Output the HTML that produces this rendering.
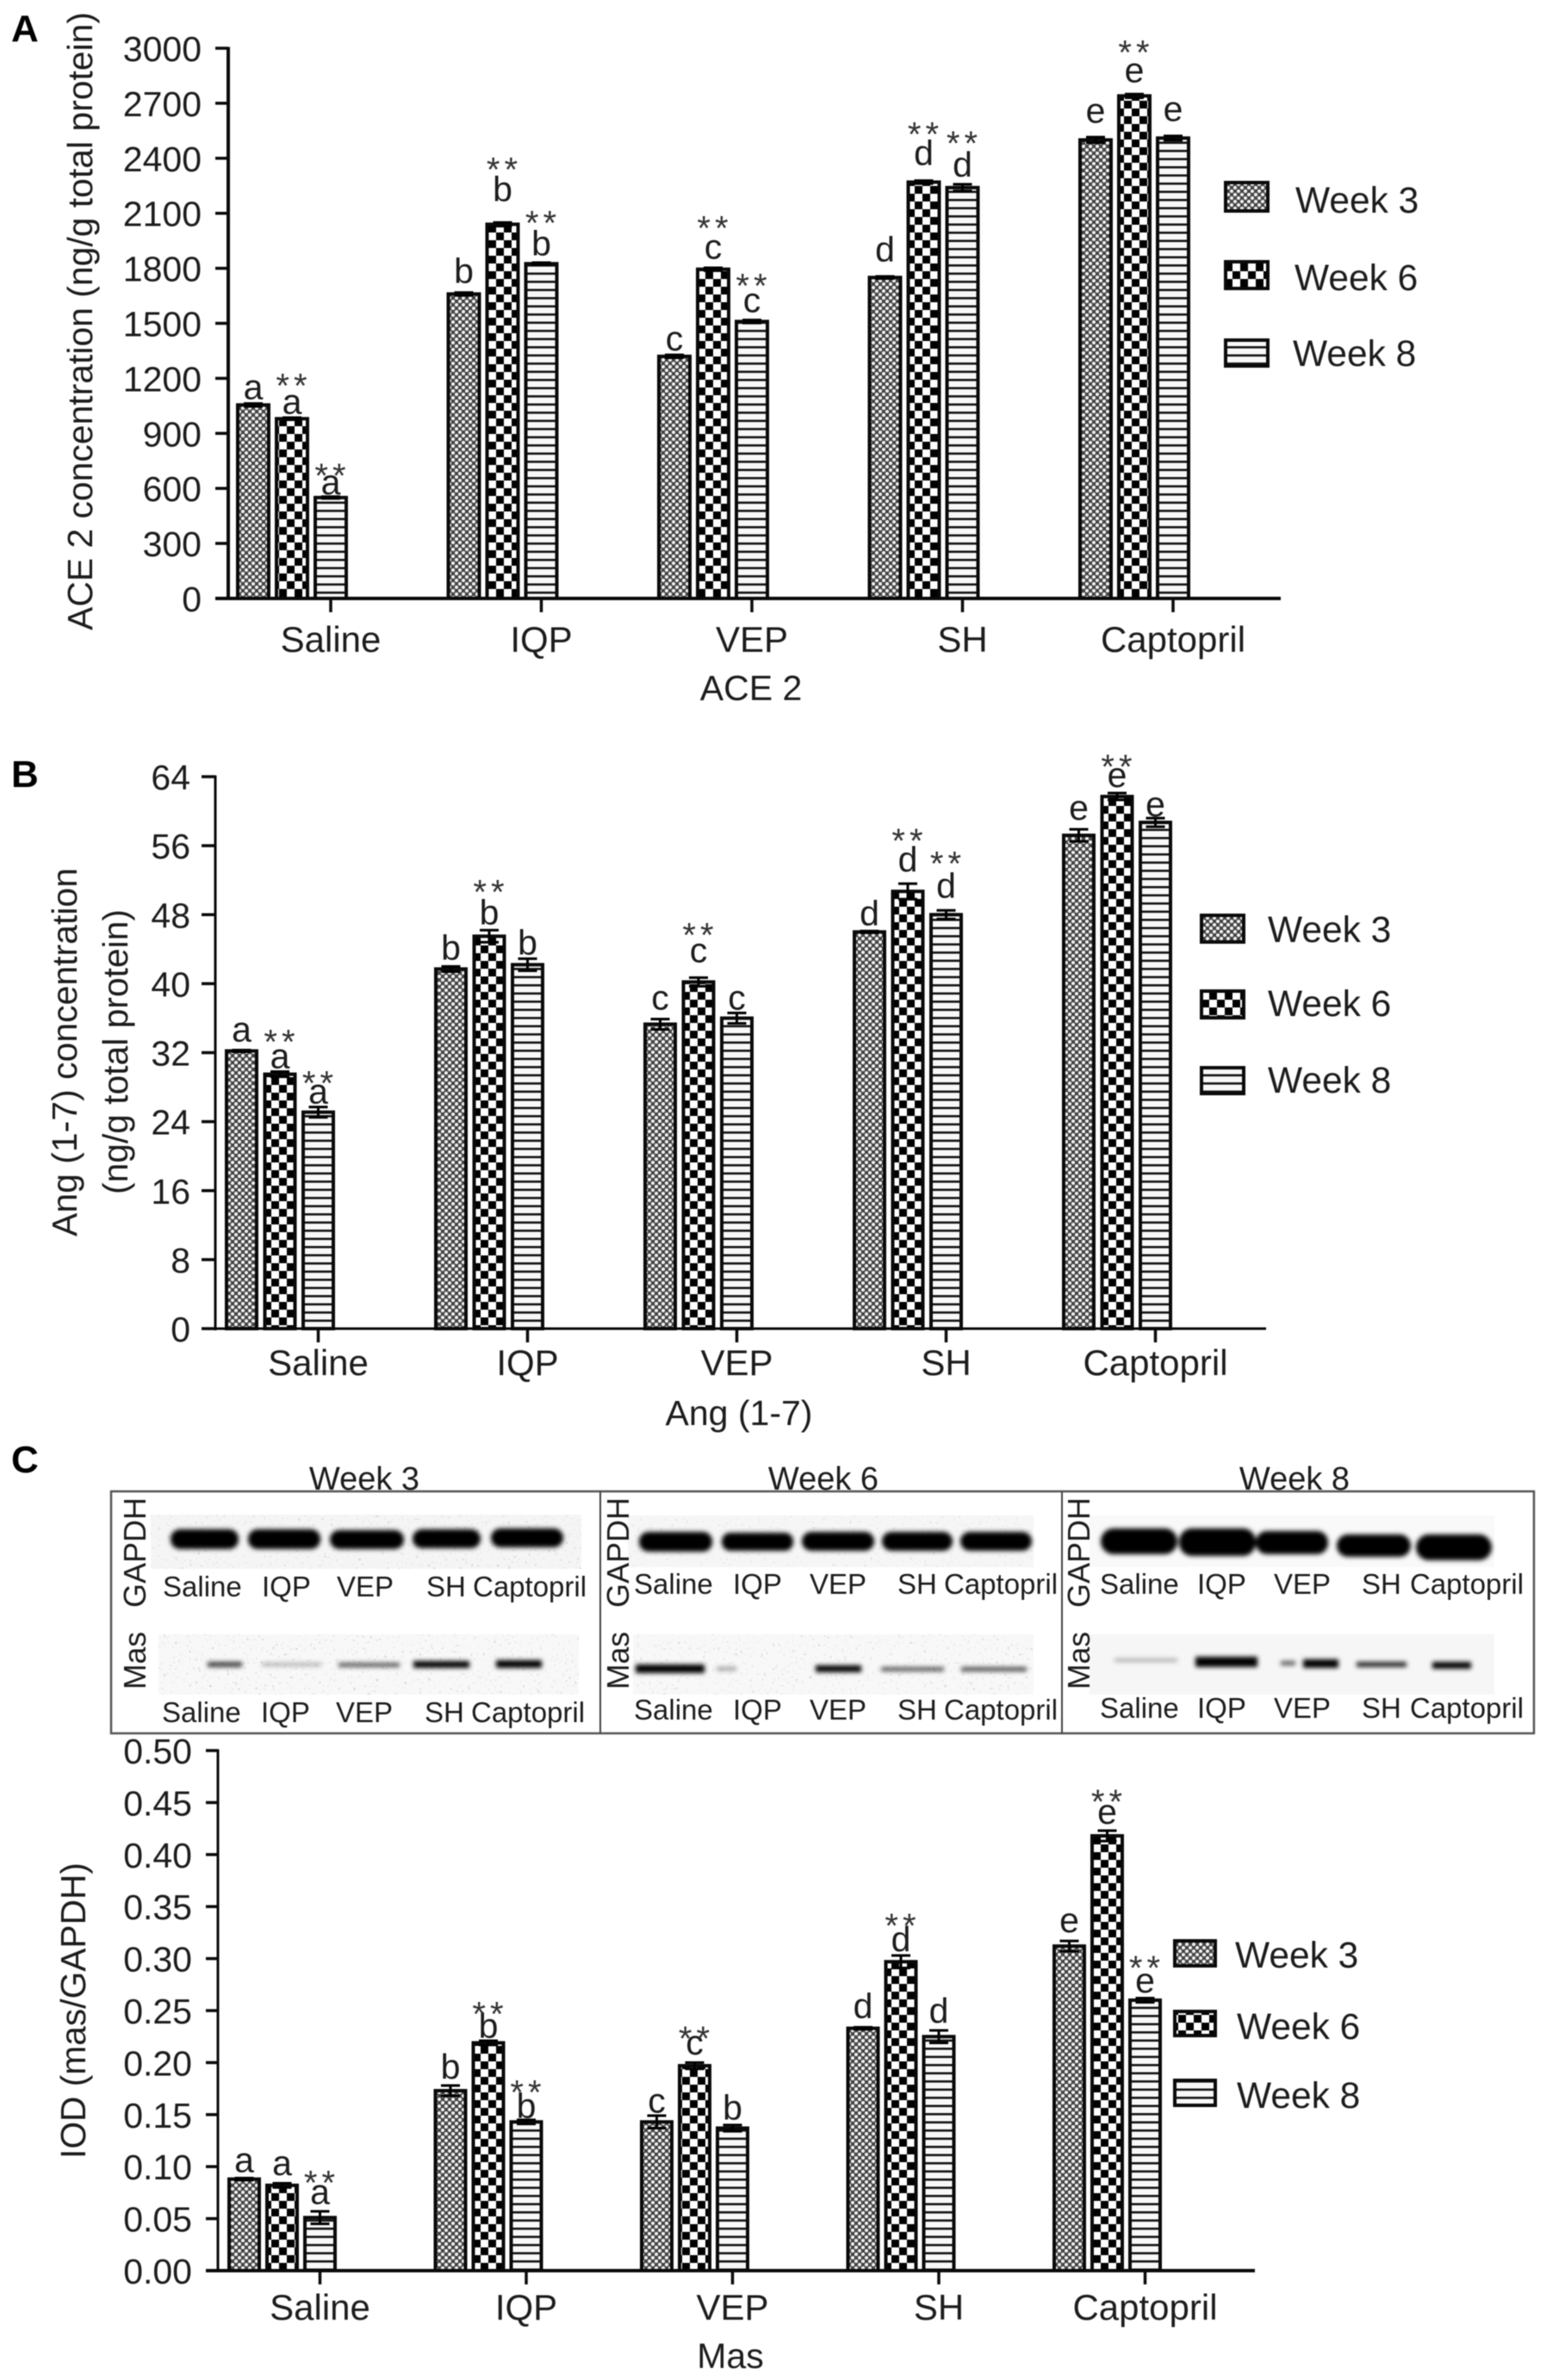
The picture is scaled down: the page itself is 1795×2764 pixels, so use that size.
<!DOCTYPE html>
<html lang="en">
<head>
<meta charset="utf-8">
<title>ACE 2, Ang (1-7) and Mas bar charts</title>
<style>
  html, body { margin: 0; padding: 0; background: #fff; }
  #figure { display: block; width: 1795px; height: 2764px; filter: blur(0.6px); }
  text { font-family: "Liberation Sans", Arial, sans-serif; fill: #1c1c1c; }
</style>
</head>
<body>
<svg id="figure" xmlns="http://www.w3.org/2000/svg" width="1795" height="2764" viewBox="0 0 1795 2764">
  <defs>
    <pattern id="pat-week3" patternUnits="userSpaceOnUse" width="8" height="8">
      <rect width="8" height="8" fill="#444"/>
      <circle cx="2" cy="2" r="2.05" fill="#f0f0f0"/>
      <circle cx="6" cy="6" r="2.05" fill="#f0f0f0"/>
    </pattern>
    <pattern id="pat-week6" patternUnits="userSpaceOnUse" width="18" height="18">
      <rect width="18" height="18" fill="#fff"/>
      <rect width="9" height="9" fill="#000"/>
      <rect x="9" y="9" width="9" height="9" fill="#000"/>
    </pattern>
    <pattern id="pat-week8" patternUnits="userSpaceOnUse" width="10" height="9.5">
      <rect width="10" height="9.5" fill="#f8f8f8"/>
      <rect y="3" width="10" height="2.6" fill="#151515"/>
    </pattern>
    <filter id="band-blur" x="-30%" y="-150%" width="160%" height="400%">
      <feGaussianBlur stdDeviation="2.6"/>
    </filter>
    <filter id="speckle" x="0" y="0" width="100%" height="100%">
      <feTurbulence type="fractalNoise" baseFrequency="0.3" numOctaves="2" seed="7"/>
      <feColorMatrix type="matrix" values="0 0 0 0 0.35  0 0 0 0 0.35  0 0 0 0 0.35  5 0 0 0 -3.2"/>
    </filter>
  </defs>

  <g id="blot">
    <rect x="129" y="1732" width="1652" height="281" fill="none" stroke="#555" stroke-width="2.5"/>
    <line x1="697" y1="1732" x2="697" y2="2013" stroke="#444" stroke-width="2"/>
    <line x1="1233" y1="1732" x2="1233" y2="2013" stroke="#444" stroke-width="2"/>

    <g>
      <rect x="175" y="1759" width="500" height="63" fill="#f5f5f5"/>
      <rect x="175" y="1759" width="500" height="63" filter="url(#speckle)" opacity="0.4"/>
      <g filter="url(#band-blur)" fill="#050505">
        <rect x="198" y="1776" width="79" height="23" rx="11"/>
        <rect x="288" y="1776" width="84" height="23" rx="11"/>
        <rect x="383" y="1777" width="86" height="22" rx="11"/>
        <rect x="479" y="1776" width="79" height="22" rx="11"/>
        <rect x="570" y="1775" width="84" height="22" rx="11"/>
      </g>
    </g>
    <g>
      <rect x="184" y="1898" width="488" height="70" fill="#f8f8f8"/>
      <rect x="184" y="1898" width="488" height="70" filter="url(#speckle)" opacity="0.45"/>
      <g filter="url(#band-blur)" fill="#050505">
        <rect x="241" y="1930" width="40" height="6" opacity="0.75"/>
        <rect x="304" y="1931" width="69" height="4" opacity="0.3"/>
        <rect x="393" y="1931" width="71" height="5" opacity="0.65"/>
        <rect x="480" y="1929" width="65" height="8" opacity="1"/>
        <rect x="576" y="1928" width="53" height="9" opacity="1"/>
      </g>
    </g>

    <g>
      <rect x="729" y="1760" width="471" height="60" fill="#f6f6f6"/>
      <rect x="729" y="1760" width="471" height="60" filter="url(#speckle)" opacity="0.3"/>
      <g filter="url(#band-blur)" fill="#050505">
        <rect x="742" y="1779" width="85" height="23" rx="11"/>
        <rect x="838" y="1780" width="83" height="21" rx="10"/>
        <rect x="931" y="1779" width="84" height="22" rx="11"/>
        <rect x="1024" y="1779" width="82" height="22" rx="11"/>
        <rect x="1115" y="1779" width="83" height="22" rx="11"/>
      </g>
    </g>
    <g>
      <rect x="735" y="1898" width="465" height="70" fill="#f8f8f8"/>
      <rect x="735" y="1898" width="465" height="70" filter="url(#speckle)" opacity="0.4"/>
      <g filter="url(#band-blur)" fill="#050505">
        <rect x="738" y="1933" width="80" height="10" opacity="1"/>
        <rect x="832" y="1936" width="23" height="4" opacity="0.4"/>
        <rect x="947" y="1934" width="53" height="8" opacity="1"/>
        <rect x="1023" y="1936" width="73" height="5" opacity="0.65"/>
        <rect x="1116" y="1936" width="76" height="5" opacity="0.7"/>
      </g>
    </g>

    <g>
      <rect x="1265" y="1760" width="470" height="60" fill="#f9f9f9"/>
      <g filter="url(#band-blur)" fill="#020202">
        <rect x="1278" y="1775" width="89" height="30" rx="15"/>
        <rect x="1369" y="1775" width="89" height="32" rx="15"/>
        <rect x="1458" y="1778" width="84" height="27" rx="13"/>
        <rect x="1552" y="1782" width="86" height="26" rx="13"/>
        <rect x="1644" y="1782" width="88" height="30" rx="15"/>
      </g>
    </g>
    <g>
      <rect x="1265" y="1898" width="470" height="70" fill="#f6f6f6"/>
      <g filter="url(#band-blur)" fill="#050505">
        <rect x="1294" y="1926" width="73" height="4" opacity="0.3"/>
        <rect x="1388" y="1924" width="72" height="12" opacity="1"/>
        <rect x="1487" y="1929" width="17" height="5" opacity="0.65"/>
        <rect x="1513" y="1927" width="41" height="10" opacity="1"/>
        <rect x="1575" y="1930" width="58" height="6" opacity="0.85"/>
        <rect x="1663" y="1930" width="45" height="8" opacity="1"/>
      </g>
    </g>

    <text x="423" y="1730" font-size="38" text-anchor="middle">Week 3</text>
    <text x="956" y="1730" font-size="38" text-anchor="middle">Week 6</text>
    <text x="1503" y="1730" font-size="38" text-anchor="middle">Week 8</text>

    <text transform="translate(169,1867) rotate(-90)" font-size="36" textLength="128" lengthAdjust="spacingAndGlyphs">GAPDH</text>
    <text transform="translate(169,1962) rotate(-90)" font-size="36" textLength="67" lengthAdjust="spacingAndGlyphs">Mas</text>
    <text transform="translate(730,1867) rotate(-90)" font-size="36" textLength="128" lengthAdjust="spacingAndGlyphs">GAPDH</text>
    <text transform="translate(730,1962) rotate(-90)" font-size="36" textLength="67" lengthAdjust="spacingAndGlyphs">Mas</text>
    <text transform="translate(1265,1867) rotate(-90)" font-size="36" textLength="128" lengthAdjust="spacingAndGlyphs">GAPDH</text>
    <text transform="translate(1265,1962) rotate(-90)" font-size="36" textLength="67" lengthAdjust="spacingAndGlyphs">Mas</text>
    <g id="blot-lane-labels"></g>
  </g>

  <g id="panel-a">
    <text x="13" y="48" font-size="44" font-weight="bold" style="fill:#000">A</text>
    <text transform="translate(107,732) rotate(-90)" font-size="41" textLength="718" lengthAdjust="spacingAndGlyphs">ACE 2 concentration (ng/g total protein)</text>
    <text x="872" y="813" font-size="41" text-anchor="middle">ACE 2</text>
  </g>
  <g id="panel-b">
    <text x="13" y="914" font-size="44" font-weight="bold" style="fill:#000">B</text>
    <text transform="translate(89,1436) rotate(-90)" font-size="41" textLength="428" lengthAdjust="spacingAndGlyphs">Ang (1-7) concentration</text>
    <text transform="translate(148,1387) rotate(-90)" font-size="41" textLength="331" lengthAdjust="spacingAndGlyphs">(ng/g total protein)</text>
    <text x="858" y="1655" font-size="41" text-anchor="middle">Ang (1-7)</text>
  </g>
  <g id="panel-c">
    <text x="13" y="1710" font-size="44" font-weight="bold" style="fill:#000">C</text>
    <text transform="translate(99,2507) rotate(-90)" font-size="41" textLength="344" lengthAdjust="spacingAndGlyphs">IOD (mas/GAPDH)</text>
    <text x="848" y="2750" font-size="41" text-anchor="middle">Mas</text>
  </g>
</svg>

<script>
// ---------- shared categories ----------
const categories = ['Saline', 'IQP', 'VEP', 'SH', 'Captopril'];
const seriesNames = ['Week 3', 'Week 6', 'Week 8'];

// ---------- panel A data (ng/g total protein) ----------
const aTicks = [0, 300, 600, 900, 1200, 1500, 1800, 2100, 2400, 2700, 3000];
const aWeek3 = [1055, 1660, 1320, 1750, 2500];
const aWeek6 = [980, 2040, 1795, 2270, 2740];
const aWeek8 = [550, 1825, 1510, 2240, 2510];
const aErrWeek3 = [8, 8, 8, 6, 15];
const aErrWeek6 = [6, 10, 8, 8, 10];
const aErrWeek8 = [5, 6, 8, 18, 12];
const aLettersWeek3 = ['a', 'b', 'c', 'd', 'e'];
const aLettersWeek6 = ['a', 'b', 'c', 'd', 'e'];
const aLettersWeek8 = ['a', 'b', 'c', 'd', 'e'];
const aStarsWeek3 = [0, 0, 0, 0, 0];
const aStarsWeek6 = [1, 1, 1, 1, 1];
const aStarsWeek8 = [1, 1, 1, 1, 0];

// ---------- panel B data (ng/g total protein) ----------
const bTicks = [0, 8, 16, 24, 32, 40, 48, 56, 64];
const bWeek3 = [32.2, 41.7, 35.3, 46, 57.2];
const bWeek6 = [29.5, 45.5, 40.2, 50.7, 61.7];
const bWeek8 = [25.1, 42.2, 36, 48, 58.7];
const bErrWeek3 = [0.1, 0.3, 0.6, 0.1, 0.7];
const bErrWeek6 = [0.3, 0.7, 0.5, 0.9, 0.4];
const bErrWeek8 = [0.6, 0.7, 0.6, 0.5, 0.5];
const bLettersWeek3 = ['a', 'b', 'c', 'd', 'e'];
const bLettersWeek6 = ['a', 'b', 'c', 'd', 'e'];
const bLettersWeek8 = ['a', 'b', 'c', 'd', 'e'];
const bStarsWeek3 = [0, 0, 0, 0, 0];
const bStarsWeek6 = [1, 1, 1, 1, 1];
const bStarsWeek8 = [1, 0, 0, 1, 0];

// ---------- panel C data (IOD mas/GAPDH) ----------
const cTicks = ['0.00', '0.05', '0.10', '0.15', '0.20', '0.25', '0.30', '0.35', '0.40', '0.45', '0.50'];
const cWeek3 = [0.088, 0.173, 0.143, 0.233, 0.312];
const cWeek6 = [0.082, 0.219, 0.197, 0.297, 0.418];
const cWeek8 = [0.051, 0.143, 0.137, 0.225, 0.260];
const cErrWeek3 = [0.001, 0.005, 0.006, 0.001, 0.005];
const cErrWeek6 = [0.002, 0.002, 0.003, 0.006, 0.005];
const cErrWeek8 = [0.006, 0.002, 0.003, 0.006, 0.002];
const cLettersWeek3 = ['a', 'b', 'c', 'd', 'e'];
const cLettersWeek6 = ['a', 'b', 'c', 'd', 'e'];
const cLettersWeek8 = ['a', 'b', 'b', 'd', 'e'];
const cStarsWeek3 = [0, 0, 0, 0, 0];
const cStarsWeek6 = [0, 1, 1, 1, 1];
const cStarsWeek8 = [1, 1, 0, 0, 1];

// ---------- annotation clearance above each bar (layout only, not data) ----------
const aLetterLift = [[7, 13, 7, 19, 20], [6, 27, 12, 20, 16], [4, 10, 11, 13, 20]];
const aStarLift = [[0, 0, 0, 0, 0], [44, 69, 53, 61, 56], [31, 53, 47, 57, 0]];
const bLetterLift = [[11, 11, 17, 8, 18], [7, 14, 23, 23, 11], [10, 12, 10, 20, 7]];
const bStarLift = [[0, 0, 0, 0, 0], [43, 57, 60, 64, 40], [39, 0, 0, 65, 0]];
const cLetterLift = [[8, 14, 11, 12, 16], [12, 6, 13, 12, 14], [16, 5, 10, 16, 9]];
const cStarLift = [[0, 0, 0, 0, 0], [0, 39, 37, 47, 45], [46, 40, 0, 0, 43]];

const NS = 'http://www.w3.org/2000/svg';
function mk(tag, attrs, parent) {
  const node = document.createElementNS(NS, tag);
  for (const k in attrs) node.setAttribute(k, attrs[k]);
  parent.appendChild(node);
  return node;
}
const patternIds = ['pat-week3', 'pat-week6', 'pat-week8'];

function drawPanel(cfg) {
  const root = document.getElementById(cfg.id);
  const yScale = v => cfg.y0 + (cfg.yTop - cfg.y0) * (v - cfg.min) / (cfg.max - cfg.min);
  const barLeft = (group, series) => cfg.left + group * cfg.groupStep + series * cfg.barStep;
  const barCenter = (group, series) => barLeft(group, series) + cfg.barW / 2;

  // bars, error bars and annotations
  cfg.series.forEach((values, s) => {
    values.forEach((v, g) => {
      const bar = mk('rect', {
        x: barLeft(g, s) + 2,
        y: yScale(v),
        width: cfg.barW - 4,
        height: Math.max(0, cfg.y0 - yScale(v)),
        fill: 'url(#' + patternIds[s] + ')',
        stroke: '#0a0a0a',
        'stroke-width': 4
      }, root);
      
      

      const err = cfg.errors[s][g];
      const cx = barCenter(g, s);
      const errGroup = mk('g', { stroke: '#000', 'stroke-width': 3 }, root);
      
      
      mk('line', { x1: cx, x2: cx, y1: yScale(v + err), y2: yScale(v - err) }, errGroup);
      mk('line', { x1: cx - 11, x2: cx + 11, y1: yScale(v + err), y2: yScale(v + err) }, errGroup);
      mk('line', { x1: cx - 11, x2: cx + 11, y1: yScale(v - err), y2: yScale(v - err) }, errGroup);

      const letter = mk('text', {
        x: cx,
        y: yScale(v) - cfg.letterLift[s][g],
        'font-size': 41,
        'text-anchor': 'middle'
      }, root);
      letter.textContent = cfg.letters[s][g];
      
      

      if (cfg.stars[s][g]) {
        const star = mk('text', {
          x: cx + 2,
          y: yScale(v) - cfg.starLift[s][g] + 19,
          'font-size': 40,
          'text-anchor': 'middle',
          'letter-spacing': 5,
          style: 'fill:#333'
        }, root);
        star.textContent = '**';
        
        
      }
    });
  });

  // axes
  const yAxis = mk('line', { x1: cfg.axisX, x2: cfg.axisX, y1: cfg.yTop - 1.5, y2: cfg.y0 + 2, stroke: '#0a0a0a', 'stroke-width': cfg.yAxisW }, root);
  
  
  const xAxis = mk('line', { x1: cfg.axisX - cfg.tickLen, x2: cfg.xEnd, y1: cfg.y0, y2: cfg.y0, stroke: '#0a0a0a', 'stroke-width': cfg.xAxisW }, root);
  
  

  cfg.ticks.forEach(t => {
    const value = Number(t);
    const tick = mk('line', { x1: cfg.axisX - cfg.tickLen, x2: cfg.axisX, y1: yScale(value), y2: yScale(value), stroke: '#0a0a0a', 'stroke-width': 3.5 }, root);
    
    
    const label = mk('text', { x: cfg.tickLabelX, y: yScale(value) + 15, 'font-size': 41, 'text-anchor': 'end' }, root);
    label.textContent = String(t);
    
    
  });

  categories.forEach((name, g) => {
    const cx = barCenter(g, 2);
    const tick = mk('line', { x1: cx, x2: cx, y1: cfg.y0, y2: cfg.y0 + 16, stroke: '#0a0a0a', 'stroke-width': 3.5 }, root);
    
    
    const label = mk('text', { x: cx, y: cfg.catLabelY, 'font-size': 42, 'text-anchor': 'middle' }, root);
    label.textContent = name;
    
    
  });

  // legend
  seriesNames.forEach((name, s) => {
    const row = mk('g', {}, root);
    
    
    const box = cfg.legend[s];
    const swatch = mk('rect', {
      x: cfg.legendX + 2, y: box.top + 2,
      width: cfg.legendW - 4, height: box.h - 4,
      fill: 'url(#' + patternIds[s] + ')', stroke: '#0a0a0a', 'stroke-width': 4
    }, row);
    
    
    const label = mk('text', { x: box.textX, y: box.base, 'font-size': 42.5 }, row);
    label.textContent = name;
    
    
  });
}

drawPanel({
  id: 'panel-a', min: 0, max: 3000, yTop: 56, y0: 695,
  axisX: 265, xEnd: 1487, tickLen: 15, tickLabelX: 234, yAxisW: 4, xAxisW: 4, catLabelY: 757,
  left: 274, groupStep: 244.5, barStep: 45, barW: 40,
  series: [aWeek3, aWeek6, aWeek8],
  errors: [aErrWeek3, aErrWeek6, aErrWeek8],
  letters: [aLettersWeek3, aLettersWeek6, aLettersWeek8],
  stars: [aStarsWeek3, aStarsWeek6, aStarsWeek8],
  letterLift: aLetterLift, starLift: aStarLift,
  ticks: aTicks,
  legendX: 1421, legendW: 53,
  legend: [
    { top: 210, h: 37, textX: 1504, base: 247 },
    { top: 302, h: 35, textX: 1503, base: 337 },
    { top: 393, h: 34, textX: 1501, base: 425 }
  ]
});

drawPanel({
  id: 'panel-b', min: 0, max: 64, yTop: 902, y0: 1543,
  axisX: 250, xEnd: 1470, tickLen: 16, tickLabelX: 221, yAxisW: 3, xAxisW: 3, catLabelY: 1597,
  left: 261, groupStep: 243, barStep: 44.5, barW: 39,
  series: [bWeek3, bWeek6, bWeek8],
  errors: [bErrWeek3, bErrWeek6, bErrWeek8],
  letters: [bLettersWeek3, bLettersWeek6, bLettersWeek8],
  stars: [bStarsWeek3, bStarsWeek6, bStarsWeek8],
  letterLift: bLetterLift, starLift: bStarLift,
  ticks: bTicks,
  legendX: 1393, legendW: 53,
  legend: [
    { top: 1061, h: 35, textX: 1472, base: 1094 },
    { top: 1149, h: 35, textX: 1472, base: 1180 },
    { top: 1238, h: 34, textX: 1472, base: 1269 }
  ]
});

drawPanel({
  id: 'panel-c', min: 0, max: 0.5, yTop: 2033, y0: 2637,
  axisX: 253, xEnd: 1457, tickLen: 14, tickLabelX: 223, yAxisW: 3, xAxisW: 4, catLabelY: 2694,
  left: 264, groupStep: 239.5, barStep: 44, barW: 39,
  series: [cWeek3, cWeek6, cWeek8],
  errors: [cErrWeek3, cErrWeek6, cErrWeek8],
  letters: [cLettersWeek3, cLettersWeek6, cLettersWeek8],
  stars: [cStarsWeek3, cStarsWeek6, cStarsWeek8],
  letterLift: cLetterLift, starLift: cStarLift,
  ticks: cTicks,
  legendX: 1362, legendW: 51,
  legend: [
    { top: 2252, h: 33, textX: 1434, base: 2285 },
    { top: 2334, h: 32, textX: 1436, base: 2368 },
    { top: 2414, h: 33, textX: 1436, base: 2448 }
  ]
});

// ---------- blot lane captions ----------
const blotRows = [
  { base: 1854, starts: [189, 304, 391, 495, 549] },
  { base: 2000, starts: [188, 303, 390, 493, 547] },
  { base: 1851, starts: [736, 851, 940, 1042, 1096] },
  { base: 1997, starts: [736, 851, 940, 1042, 1096] },
  { base: 1851, starts: [1277, 1390, 1479, 1581, 1637] },
  { base: 1995, starts: [1277, 1390, 1479, 1581, 1637] }
];
const blotLayer = document.getElementById('blot-lane-labels');
blotRows.forEach(row => {
  row.starts.forEach((startX, i) => {
    const label = mk('text', { x: startX, y: row.base, 'font-size': 33 }, blotLayer);
    label.textContent = categories[i];
    
    
  });
});
</script>
</body>
</html>
